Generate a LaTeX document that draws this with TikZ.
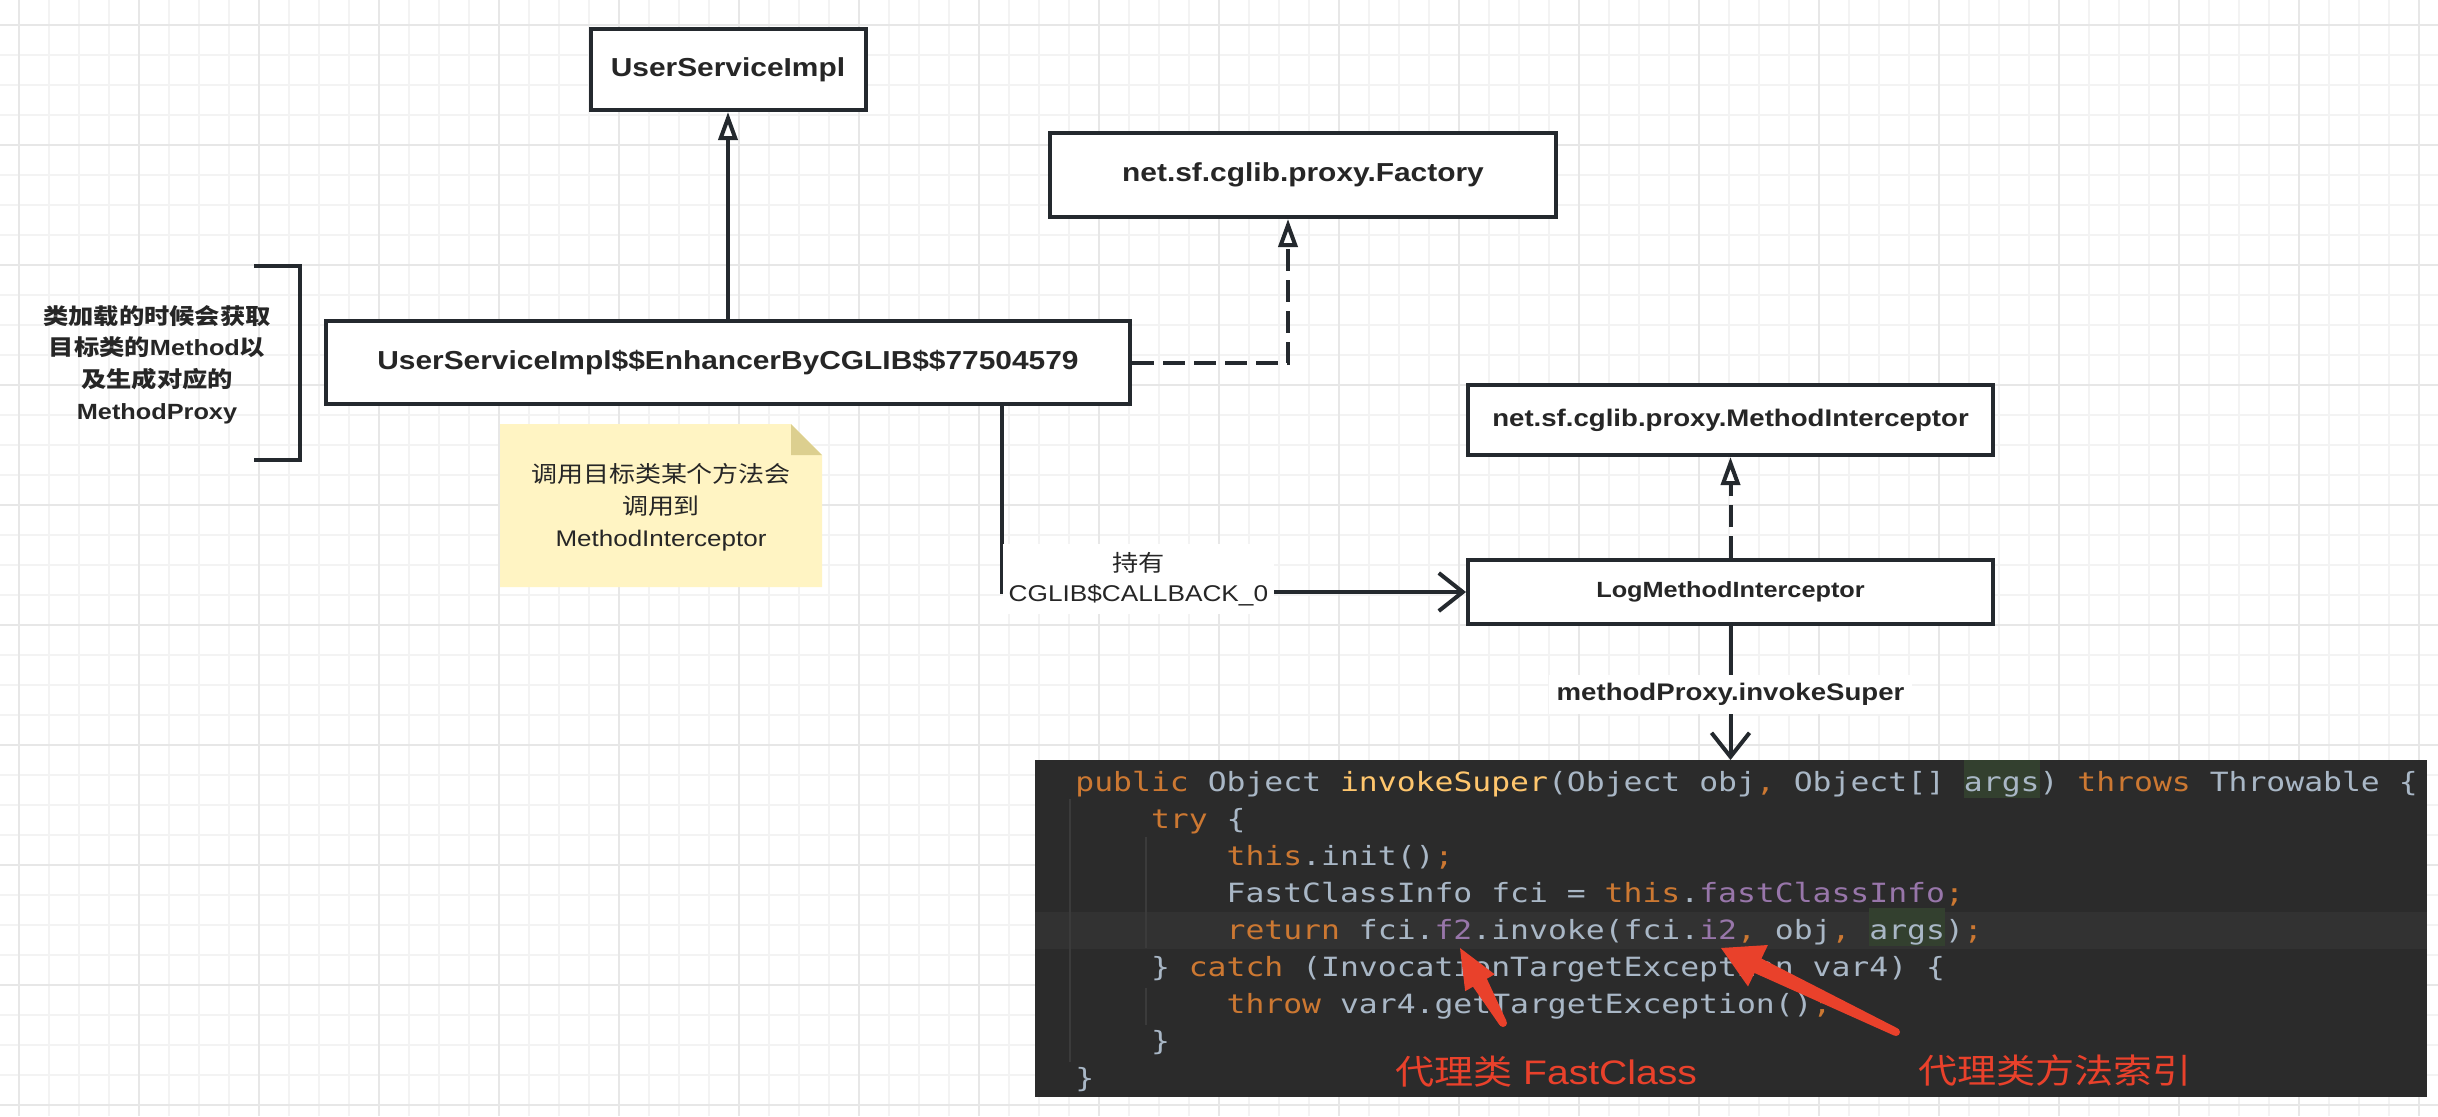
\documentclass[tikz,border=0pt]{standalone}
\usepackage{fontspec}
\setmainfont{Liberation Sans}[FakeStretch=1.15]
\newfontfamily\cjk{Noto Sans CJK SC}[FakeStretch=1.15]
\newfontfamily\codefont{DejaVu Sans Mono}[FakeStretch=1.185]
\usepackage{tikz}
\usetikzlibrary{arrows.meta, positioning, calc}

\definecolor{linec}{HTML}{24292E}
\definecolor{txtc}{HTML}{262626}
\definecolor{gridminor}{HTML}{F3F3F3}
\definecolor{gridmajor}{HTML}{E7E7E7}
\definecolor{notefill}{HTML}{FFF4C3}
\definecolor{notefold}{HTML}{DCCF8F}
\definecolor{codebg}{HTML}{2B2B2B}
\definecolor{curline}{HTML}{323232}
\definecolor{guidec}{HTML}{3B3B3B}
\definecolor{kwc}{HTML}{CC7832}
\definecolor{idc}{HTML}{A9B7C6}
\definecolor{methc}{HTML}{FFC66D}
\definecolor{fldc}{HTML}{9876AA}
\definecolor{argbg}{HTML}{33402F}
\definecolor{annored}{HTML}{E9412B}

\tikzstyle{classbox} = [draw=linec, line width=2pt, fill=white, rectangle, text=txtc, font=\bfseries\fontsize{13}{16}\selectfont]
\tikzstyle{realize} = [draw=linec, line width=2pt, -{Triangle[fill=white, length=14pt, width=9.5pt]}]
\tikzstyle{implement} = [realize, dash pattern=on 11pt off 4.5pt]
\tikzstyle{assoc} = [draw=linec, line width=2pt, -{Straight Barb[length=12pt, width=19pt]}]
\tikzstyle{codeline} = [anchor=base west, inner sep=0pt, text=idc, font=\codefont\fontsize{13.25}{16}\selectfont]
\tikzstyle{redtext} = [inner sep=0pt, text=annored, font=\fontsize{17}{20}\selectfont]

\newcommand{\zh}[1]{{\cjk #1}}
\newcommand{\kw}[1]{\textcolor{kwc}{#1}}
\newcommand{\meth}[1]{\textcolor{methc}{#1}}
\newcommand{\fld}[1]{\textcolor{fldc}{#1}}
\newcommand{\hlarg}[1]{{\setlength{\fboxsep}{0pt}\colorbox{argbg}{\rule[-3.5pt]{0pt}{19pt}#1}}}
% tapered callout arrow: tail, tip, head length, head half width
\newcommand{\redarrow}[4]{%
  \coordinate (hb) at ($(#2)!#3!(#1)$);
  \fill[annored] ($(#1)!2pt!90:(#2)$) -- ($(hb)!4pt!-90:(#1)$) -- ($(hb)!#4!-90:(#1)$) -- (#2)
    -- ($(hb)!#4!90:(#1)$) -- ($(hb)!4pt!90:(#1)$) -- ($(#1)!2pt!-90:(#2)$) -- cycle;
  \fill[annored] (#1) circle (2pt);
}

\begin{document}
\begin{tikzpicture}[x=0.5pt, y=-0.5pt]
    \useasboundingbox (0,0) rectangle (2438,1116);
    \fill[white] (0,0) rectangle (2438,1116);
    % grid
    \foreach \gx in {19,49,...,2438} \draw[gridminor, line width=1pt] (\gx,0) -- (\gx,1116);
    \foreach \gy in {25,55,...,1116} \draw[gridminor, line width=1pt] (0,\gy) -- (2438,\gy);
    \foreach \gx in {19,139,...,2438} \draw[gridmajor, line width=1pt] (\gx,0) -- (\gx,1116);
    \foreach \gy in {25,145,...,1116} \draw[gridmajor, line width=1pt] (0,\gy) -- (2438,\gy);

    % class boxes
    \node [classbox, minimum width=402pt, minimum height=41.5pt] (enh) at (728,362.5) {UserServiceImpl\$\$EnhancerByCGLIB\$\$77504579};
    \node [classbox, minimum width=137.5pt, minimum height=40.5pt, above=103.5pt of enh] (usi) {UserServiceImpl};
    \node [classbox, minimum width=253pt, minimum height=42pt] (factory) at (1303,175) {net.sf.cglib.proxy.Factory};
    \node [classbox, minimum width=262.5pt, minimum height=35pt, font=\bfseries\fontsize{12}{14}\selectfont] (mi) at (1730.5,420) {net.sf.cglib.proxy.MethodInterceptor};
    \node [classbox, minimum width=262.5pt, minimum height=32pt, font=\bfseries\fontsize{11}{13}\selectfont, below=50.5pt of mi] (logmi) {LogMethodInterceptor};

    % side note with bracket
    \node [align=center, text=txtc, font=\bfseries\fontsize{11}{15.85}\selectfont] (loadnote) at (157,364.5) {\zh{类加载的时候会获取}\\\zh{目标类的}Method\zh{以}\\\zh{及生成对应的}\\MethodProxy};
    \draw [linec, line width=2pt] (254,266) -- (300,266) -- (300,460) -- (254,460);

    % sticky note
    \fill [notefill] (500,424) -- (791,424) -- (822,455) -- (822,587) -- (500,587) -- cycle;
    \fill [notefold] (791,424) -- (822,455) -- (791,455) -- cycle;
    \node [align=center, text=txtc, font=\fontsize{11.3}{16}\selectfont] (callnote) at (661,507) {\zh{调用目标类某个方法会}\\\zh{调用到}\\MethodInterceptor};

    % code screenshot
    \node [fill=codebg, inner sep=0pt, outer sep=0pt, minimum width=696pt, minimum height=168.5pt, below=67pt of logmi] (code) {};
    \fill [curline] ([yshift=-76pt]code.north west) rectangle ([yshift=-94.5pt]code.north east);
    \draw [guidec, line width=1pt] (1070,799) -- (1070,1062);
    \draw [guidec, line width=1pt] (1146,837) -- (1146,948);
    \draw [guidec, line width=1pt] (1146,988) -- (1146,1025);
    \node [codeline] (cl1) at ([shift={(40.5,31)}]code.north west) {\kw{public} Object \meth{invokeSuper}(Object obj\kw{,} Object[] \hlarg{args}) \kw{throws} Throwable \{};
    \node [codeline] (cl2) at ([shift={(116.1,68.05)}]code.north west) {\kw{try} \{};
    \node [codeline] (cl3) at ([shift={(191.7,105.1)}]code.north west) {\kw{this}.init()\kw{;}};
    \node [codeline] (cl4) at ([shift={(191.7,142.15)}]code.north west) {FastClassInfo fci = \kw{this}.\fld{fastClassInfo}\kw{;}};
    \node [codeline] (cl5) at ([shift={(191.7,179.2)}]code.north west) {\kw{return} fci.\fld{f2}.invoke(fci.\fld{i2}\kw{,} obj\kw{,} \hlarg{args})\kw{;}};
    \node [codeline] (cl6) at ([shift={(116.1,216.25)}]code.north west) {\} \kw{catch} (InvocationTargetException var4) \{};
    \node [codeline] (cl7) at ([shift={(191.7,253.3)}]code.north west) {\kw{throw} var4.getTargetException()\kw{;}};
    \node [codeline] (cl8) at ([shift={(116.1,290.35)}]code.north west) {\}};
    \node [codeline] (cl9) at ([shift={(40.5,327.4)}]code.north west) {\}};

    % annotations on the code
    \coordinate (fcTail) at (1503,1023);
    \coordinate (fcTip) at (1460,948);
    \coordinate (idxTail) at (1896,1032);
    \coordinate (idxTip) at (1721,948);
    \redarrow{fcTail}{fcTip}{20pt}{8.5pt}
    \redarrow{idxTail}{idxTip}{20.5pt}{11.5pt}
    \node [redtext] (fclabel) at (1546,1072) {\zh{代理类} FastClass};
    \node [redtext] (idxlabel) at (2055,1070) {\zh{代理类方法索引}};

    % relations
    \draw [realize] (enh) -- (usi);
    \draw [implement] (enh.east) -| ([xshift=-7.5pt]factory.south);
    \draw [implement] (logmi) -- (mi);
    \draw [assoc] ([xshift=-65pt]enh.south east) |- (logmi) node [pos=0.647, yshift=6.5pt, fill=white, align=center, text=txtc, inner xsep=3pt, inner ysep=4pt, font=\fontsize{11.4}{15}\selectfont] {\zh{持有}\\CGLIB\$CALLBACK\_0};
    \draw [assoc] (logmi) -- (code) node [pos=0.51, fill=white, text=txtc, inner sep=4pt, font=\bfseries\fontsize{12}{14}\selectfont] {methodProxy.invokeSuper};
\end{tikzpicture}
\end{document}
